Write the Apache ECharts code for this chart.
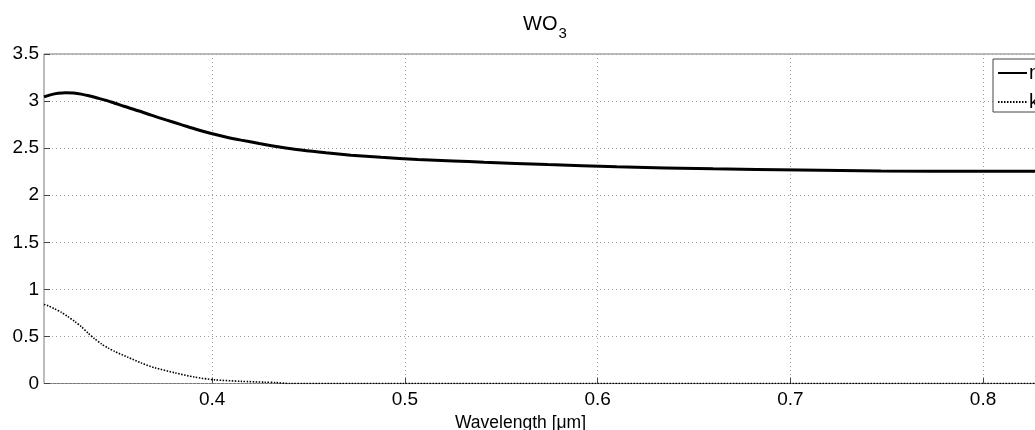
<!DOCTYPE html>
<html><head><meta charset="utf-8">
<script src="https://cdn.jsdelivr.net/npm/echarts@6/dist/echarts.min.js"></script>
<style>html,body{margin:0;padding:0;background:#fff}#c{width:1035px;height:430px}</style>
</head><body><div id="c"></div>
<script>
// ---- data ----
const xTickValues = [0.4, 0.5, 0.6, 0.7, 0.8];
const nWavelength = [0.3127, 0.3160, 0.3200, 0.3240, 0.3280, 0.3320, 0.3360, 0.3408, 0.3480, 0.3546, 0.3620, 0.3684, 0.3760, 0.3839, 0.3920, 0.3995, 0.4070, 0.4150, 0.4244, 0.4350, 0.4461, 0.4590, 0.4720, 0.4876, 0.5066, 0.5250, 0.5410, 0.5740, 0.6100, 0.6600, 0.7050, 0.7470, 0.8000, 0.8337];
const nValues     = [3.045, 3.066, 3.082, 3.088, 3.085, 3.074, 3.056, 3.030, 2.988, 2.942, 2.895, 2.850, 2.800, 2.750, 2.698, 2.655, 2.618, 2.585, 2.550, 2.513, 2.480, 2.450, 2.425, 2.402, 2.380, 2.364, 2.350, 2.325, 2.302, 2.280, 2.267, 2.258, 2.255, 2.255];
const kWavelength = [0.3127, 0.3149, 0.3180, 0.3218, 0.3250, 0.3287, 0.3320, 0.3356, 0.3390, 0.3425, 0.3460, 0.3494, 0.3563, 0.3632, 0.3701, 0.3805, 0.3908, 0.4012, 0.4150, 0.4270, 0.4330, 0.4400, 0.5000, 0.6000, 0.7000, 0.8000, 0.8337];
const kValues     = [0.840, 0.825, 0.795, 0.755, 0.712, 0.658, 0.605, 0.535, 0.475, 0.420, 0.377, 0.340, 0.278, 0.218, 0.168, 0.114, 0.068, 0.039, 0.023, 0.014, 0.010, 0.000, 0.000, 0.000, 0.000, 0.000, 0.000];
const seriesNames = ['n', 'k'];
const titleText = 'WO{sub|3}';
const xAxisTitle = 'Wavelength [\u03bcm]';

const FONT = "'Liberation Sans', Arial, sans-serif";
const chart = echarts.init(document.getElementById('c'), null, {renderer: 'canvas'});
chart.setOption({
  animation: false,
  backgroundColor: '#fff',
  title: [{
    text: titleText,
    left: 523, top: 8, padding: 0,
    textStyle: {fontFamily: FONT, fontSize: 20, fontWeight: 'normal', color: '#000',
      rich: {sub: {fontFamily: FONT, fontSize: 15, color: '#000', padding: [18, 0, 0, 1]}}}
  }, {
    text: xAxisTitle,
    left: 455, top: 414, padding: 0,
    textStyle: {fontFamily: FONT, fontSize: 17.5, fontWeight: 'normal', color: '#000'}
  }],
  legend: {
    data: seriesNames,
    orient: 'vertical',
    left: 993, top: 59,
    backgroundColor: '#fff',
    borderColor: '#444', borderWidth: 1, borderRadius: 0,
    padding: [4, 8, 0, 4],
    itemWidth: 29, itemHeight: 14, itemGap: 9,
    textStyle: {fontFamily: FONT, fontSize: 20, lineHeight: 16, color: '#000', padding: [0, 0, 0, -3]},
    itemStyle: {opacity: 0}
  },
  grid: {left: 44, width: 1004, top: 54, bottom: 46.5, show: true, borderColor: '#7a7a7a', borderWidth: 1,
    containLabel: false, outerBoundsMode: 'none'},
  xAxis: {
    type: 'value', min: 0.3127, max: 0.8337,
    axisLine: {show: false},
    axisTick: {show: true, inside: true, length: 6, customValues: xTickValues, lineStyle: {color: '#444'}},
    axisLabel: {customValues: xTickValues, fontFamily: FONT, fontSize: 19, color: '#000', margin: 7,
      formatter: v => String(Math.round(v * 10) / 10)},
    splitLine: {show: true, lineStyle: {color: '#a0a0a0', type: [1, 3], width: 1}}
  },
  yAxis: {
    type: 'value', min: 0, max: 3.5, interval: 0.5,
    axisLine: {show: false},
    axisTick: {show: true, inside: true, length: 6, lineStyle: {color: '#444'}},
    axisLabel: {fontFamily: FONT, fontSize: 19, color: '#000', margin: 5},
    splitLine: {show: true, lineStyle: {color: '#a0a0a0', type: [1, 3], width: 1}}
  },
  series: [{
    name: seriesNames[0], type: 'line', showSymbol: false, symbol: 'none', smooth: 0.25,
    data: nWavelength.map((w, i) => [w, nValues[i]]),
    lineStyle: {color: '#000', width: 3},
    itemStyle: {color: '#000'}
  }, {
    name: seriesNames[1], type: 'line', showSymbol: false, symbol: 'none', smooth: 0.25,
    data: kWavelength.map((w, i) => [w, kValues[i]]),
    lineStyle: {color: '#000', width: 1.6, type: [1.5, 1.5]},
    itemStyle: {color: '#000'}
  }]
});
</script></body></html>
